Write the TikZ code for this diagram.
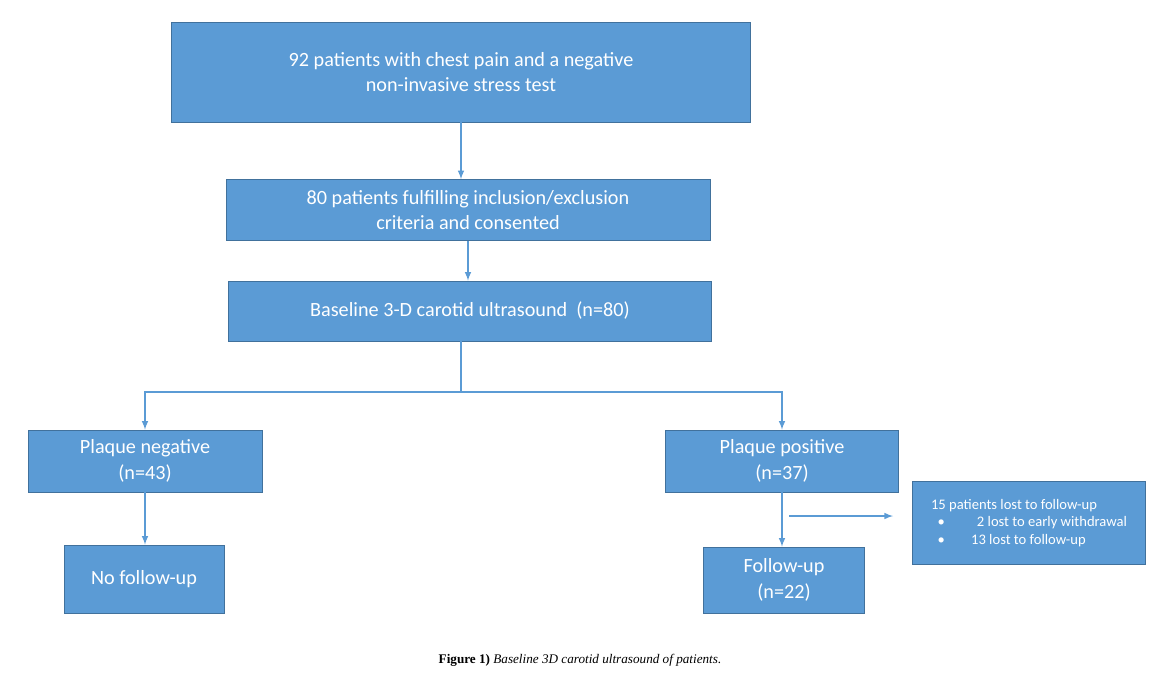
\documentclass[tikz,border=0pt]{standalone}
\usepackage{fontspec}
\setmainfont{Carlito}
\newfontfamily\capfont{Liberation Serif}
\definecolor{boxfill}{HTML}{5B9BD5}
\definecolor{boxdraw}{HTML}{41719C}
\definecolor{linecol}{HTML}{5B9BD5}
\begin{document}
\begin{tikzpicture}[x=0.02cm,y=-0.02cm,
   box/.style={draw=boxdraw,fill=boxfill,text=white,font=\fontsize{11.5}{14.5}\selectfont,align=center,inner sep=0pt},
   conn/.style={draw=linecol,line width=0.7pt},
   arr/.style={conn,-latex}]
   \useasboundingbox (0,0) rectangle (1158,679);
   % boxes
   \node[box,minimum width=579*0.02cm,minimum height=100*0.02cm] (start) at (461,72) {92 patients with chest pain and a negative\\non-invasive stress test};
   \node[box,minimum width=484*0.02cm,minimum height=61*0.02cm] (incl) at (468,210) {80 patients fulfilling inclusion/exclusion\\criteria and consented};
   \node[box,minimum width=483*0.02cm,minimum height=60*0.02cm] (base) at (470,311) {Baseline 3-D carotid ultrasound\ \ (n=80)};
   \node[box,minimum width=234*0.02cm,minimum height=62*0.02cm] (neg) at (145,461) {Plaque negative\\(n=43)};
   \node[box,minimum width=233*0.02cm,minimum height=62*0.02cm] (pos) at (782,461) {Plaque positive\\(n=37)};
   \node[box,minimum width=160*0.02cm,minimum height=68*0.02cm] (nofu) at (144,579) {No follow-up};
   \node[box,minimum width=161*0.02cm,minimum height=66*0.02cm] (fu) at (784,580) {Follow-up\\(n=22)};
   \node[box,minimum width=233*0.02cm,minimum height=83*0.02cm,font=\fontsize{8.3}{11}\selectfont,align=left] (lost) at (1029,523)
      {15 patients lost to follow-up\\[-1pt]
       \ \ \textbullet\hspace{2.2em}2 lost to early withdrawal\\[-1pt]
       \ \ \textbullet\hspace{1.8em}13 lost to follow-up};
   % connectors
   \coordinate (split) at (461,392);
   \coordinate (side) at (789,516);
   \coordinate (sideend) at (893,516);
   \draw[arr] (start.south) -- (start.south |- incl.north);
   \draw[arr] (incl.south) -- (incl.south |- base.north);
   \draw[conn] (base.south -| split) -- (split);
   \draw[arr] (split) -| (neg.north);
   \draw[arr] (split) -| (pos.north);
   \draw[arr] (neg.south) -- (neg.south |- nofu.north);
   \draw[arr] (pos.south) -- (pos.south |- fu.north);
   \draw[arr] (side) -- (sideend);
   % caption
   \node[font=\capfont\fontsize{7.5}{9}\selectfont] (cap) at (580,660) {\textbf{Figure 1)} \textit{Baseline 3D carotid ultrasound of patients.}};
\end{tikzpicture}
\end{document}
